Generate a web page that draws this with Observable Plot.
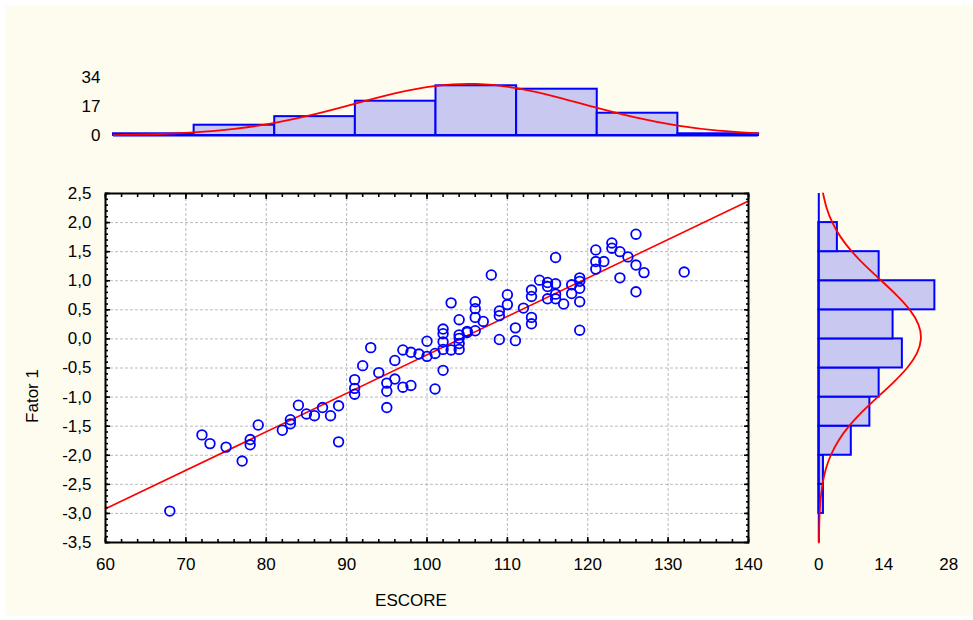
<!DOCTYPE html>
<html><head><meta charset="utf-8">
<script src="https://cdn.jsdelivr.net/npm/d3@7"></script>
<script src="https://cdn.jsdelivr.net/npm/@observablehq/plot@0.6"></script>
<style>
body{margin:0;background:#fff;}
#wrap{position:relative;width:973px;height:620px;background:#fff;overflow:hidden;}
#bg{position:absolute;left:5px;top:5px;width:968px;height:611px;background:#FEFCEF;}
#wrap svg{position:absolute;left:0;top:0;}
</style></head><body>
<div id="wrap"><div id="bg"></div></div>
<script>
// Scatter data (ESCORE vs Fator 1)
const escore = [68,72,73,75,77,78,78,79,82,83,83,84,85,86,87,88,89,89,91,91,91,92,93,94,95,95,95,96,96,97,97,98,98,99,100,100,101,101,102,102,102,102,102,103,103,104,104,104,104,104,105,105,106,106,106,106,107,108,109,109,109,110,110,111,111,112,113,113,113,113,114,115,115,115,116,116,116,116,117,118,118,119,119,119,119,119,121,121,121,122,123,123,124,124,125,126,126,126,127,132];
const fator1 = [-2.96,-1.65,-1.80,-1.86,-2.10,-1.73,-1.82,-1.48,-1.57,-1.39,-1.46,-1.14,-1.29,-1.32,-1.18,-1.32,-1.15,-1.77,-0.70,-0.85,-0.95,-0.46,-0.15,-0.58,-0.76,-0.90,-1.18,-0.37,-0.69,-0.19,-0.83,-0.23,-0.80,-0.26,-0.04,-0.30,-0.25,-0.86,0.17,0.09,-0.05,-0.18,-0.54,0.62,-0.19,0.33,0.07,0.01,-0.08,-0.18,0.13,0.11,0.64,0.52,0.37,0.14,0.30,1.10,0.48,0.40,-0.01,0.76,0.59,0.19,-0.03,0.53,0.84,0.73,0.37,0.26,1.01,0.97,0.90,0.69,1.40,0.95,0.77,0.69,0.60,0.93,0.78,1.05,0.99,0.87,0.64,0.15,1.53,1.33,1.20,1.33,1.65,1.56,1.50,1.05,1.41,1.80,1.27,0.81,1.14,1.15];

// Regression line end points
const regX = [60, 140];
const regY = [-2.92, 2.37];

// Top histogram (ESCORE)
const topBinLo = [60,70,80,90,100,110,120,130];
const topBinHi = [70,80,90,100,110,120,130,140];
const topCounts = [1,6,11,20,29,27,13,1];
const topCurveX = [60,65,70,75,80,85,90,95,100,105,110,115,120,125,130,135,140];
const topCurveY = [0.27,0.73,1.78,3.86,7.4,12.46,18.6,24.7,28.98,30.06,27.6,22.4,16.1,10.25,5.76,2.87,1.27];
const topTicks = [0,17,34];

// Right histogram (Fator 1)
const rightBinLo = [-3,-2.5,-2,-1.5,-1,-0.5,0,0.5,1,1.5];
const rightBinHi = [-2.5,-2,-1.5,-1,-0.5,0,0.5,1,1.5,2];
const rightCounts = [1,1,7,11,13,18,16,25,13,4];
const rightCurveY = [-3.5,-3.25,-3,-2.75,-2.5,-2.25,-2,-1.75,-1.5,-1.25,-1,-0.75,-0.5,-0.25,0,0.25,0.5,0.75,1,1.25,1.5,1.75,2,2.25,2.5];
const rightCurveX = [0.03,0.08,0.18,0.39,0.79,1.47,2.58,4.23,6.5,9.37,12.67,16.03,19.0,21.12,21.99,21.45,19.6,16.79,13.48,10.13,7.14,4.72,2.92,1.69,0.92];
const rightTicks = [0,14,28];

// Scatter axes ticks
const xTicks = [60,70,80,90,100,110,120,130,140];
const xGrid = [70,80,90,100,110,120,130];
const yTicks = [-3.5,-3,-2.5,-2,-1.5,-1,-0.5,0,0.5,1,1.5,2,2.5];
const yGrid = [-3,-2.5,-2,-1.5,-1,-0.5,0,0.5,1,1.5,2];
const xMinor = d3.range(60, 141, 2);
const yMinor = d3.range(-35, 26).map(d => d / 10);

const W = 973, H = 620;
const style = {background:"transparent", fontFamily:"'Liberation Sans', Arial, sans-serif", fontSize:"17px", color:"black", overflow:"visible"};
const blue = "#0000FF", red = "#FF0000", barFill = "#C8C8F0";
const fmtComma = d => d.toFixed(1).replace(".", ",");
const M = {left:105, right:225, top:193, bottom:78};

const points = escore.map((x, i) => ({x, y: fator1[i]}));
const reg = regX.map((x, i) => ({x, y: regY[i]}));

const tickOpts = {label:null, tickFormat:() => "", strokeWidth:1.6, stroke:"black"};

const scatter = Plot.plot({
  width:W, height:H,
  marginLeft:M.left, marginRight:M.right, marginTop:M.top, marginBottom:M.bottom,
  style,
  x:{domain:[60,140], label:null},
  y:{domain:[-3.5,2.5], label:null},
  marks:[
    Plot.frame({fill:"white"}),
    Plot.ruleX(xGrid, {x:d => d, stroke:"#BBBBBB", strokeDasharray:"3,2"}),
    Plot.ruleY(yGrid, {y:d => d, stroke:"#BBBBBB", strokeDasharray:"3,2"}),
    Plot.line(reg, {x:"x", y:"y", stroke:red, strokeWidth:1.6}),
    Plot.dot(points, {x:"x", y:"y", r:4.8, stroke:blue, strokeWidth:1.8, fill:"none"}),
    Plot.axisX(xMinor, {...tickOpts, anchor:"bottom", tickSize:-3}),
    Plot.axisX(xMinor, {...tickOpts, anchor:"top", tickSize:-3}),
    Plot.axisX(xTicks, {...tickOpts, anchor:"bottom", tickSize:-5}),
    Plot.axisX(xTicks, {...tickOpts, anchor:"top", tickSize:-5}),
    Plot.axisY(yMinor, {...tickOpts, anchor:"left", tickSize:-3}),
    Plot.axisY(yMinor, {...tickOpts, anchor:"right", tickSize:-3}),
    Plot.axisY(yTicks, {...tickOpts, anchor:"left", tickSize:-5}),
    Plot.axisY(yTicks, {...tickOpts, anchor:"right", tickSize:-5}),
    Plot.frame({stroke:"black", strokeWidth:2}),
    Plot.axisX(xTicks, {anchor:"bottom", tickSize:0, tickPadding:15, tickFormat:d => String(d), label:null}),
    Plot.axisY(yTicks, {anchor:"left", tickSize:0, tickPadding:14, tickFormat:fmtComma, label:null}),
    Plot.text(["ESCORE"], {text:d => d, frameAnchor:"bottom", textAnchor:"middle", dx:-16, dy:63}),
    Plot.text(["Fator 1"], {text:d => d, frameAnchor:"left", textAnchor:"middle", lineAnchor:"middle", dx:-73, dy:28, rotate:-90})
  ]
});

const topBins = topBinLo.map((lo, i) => ({lo, hi: topBinHi[i], count: topCounts[i]}));
const topCurve = topCurveX.map((x, i) => ({x, y: topCurveY[i]}));
const topPlot = Plot.plot({
  width:W, height:H,
  marginLeft:113, marginRight:215, marginTop:76.7, marginBottom:485,
  style,
  x:{domain:[60,140], label:null, axis:null},
  y:{domain:[0,34], label:null},
  marks:[
    Plot.rect(topBins, {x1:"lo", x2:"hi", y1:() => 0, y2:"count", fill:barFill, stroke:blue, strokeWidth:2}),
    Plot.ruleY([0], {y:d => d, stroke:blue, strokeWidth:2}),
    Plot.line(topCurve, {x:"x", y:"y", stroke:red, strokeWidth:1.8, curve:"natural"}),
    Plot.axisY(topTicks, {anchor:"left", tickSize:0, tickPadding:13, label:null})
  ]
});

const rightBins = rightBinLo.map((lo, i) => ({lo, hi: rightBinHi[i], count: rightCounts[i]}));
const rightCurve = rightCurveY.map((y, i) => ({x: rightCurveX[i], y}));
const rightPlot = Plot.plot({
  width:W, height:H,
  marginLeft:818.3, marginRight:24.7, marginTop:M.top, marginBottom:M.bottom,
  style,
  x:{domain:[0,28], label:null},
  y:{domain:[-3.5,2.5], label:null, axis:null},
  marks:[
    Plot.rect(rightBins, {y1:"lo", y2:"hi", x1:() => 0, x2:"count", fill:barFill, stroke:blue, strokeWidth:2}),
    Plot.ruleX([0], {x:d => d, stroke:blue, strokeWidth:2}),
    Plot.line(rightCurve, {x:"x", y:"y", stroke:red, strokeWidth:1.8, curve:"natural"}),
    Plot.axisX(rightTicks, {anchor:"bottom", tickSize:0, tickPadding:15, label:null})
  ]
});

const wrap = document.getElementById("wrap");
wrap.appendChild(scatter);
wrap.appendChild(topPlot);
wrap.appendChild(rightPlot);
</script>
</body></html>
